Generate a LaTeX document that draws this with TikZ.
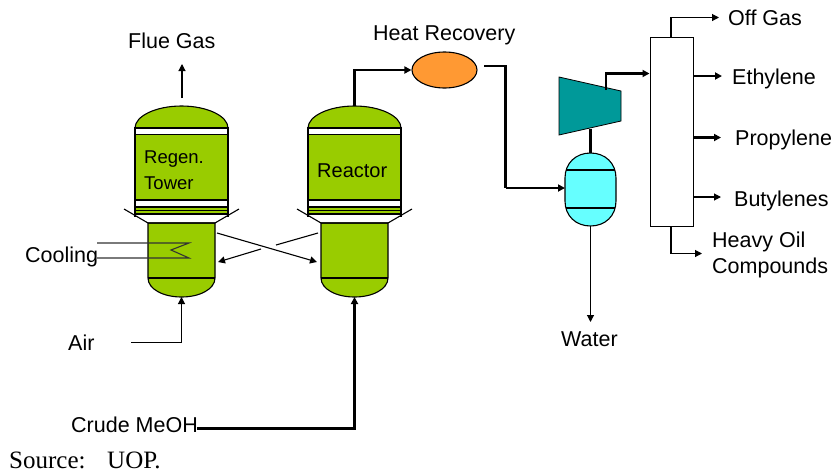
\documentclass[tikz,border=0pt]{standalone}
\usepackage{fontspec}
\setmainfont{Liberation Sans}
\newfontfamily\serifsrc{Liberation Serif}
\usetikzlibrary{arrows.meta,shapes.geometric}
\definecolor{vgreen}{HTML}{99CC00}
\definecolor{teal2}{HTML}{009999}
\definecolor{cyan2}{HTML}{66FFFF}
\definecolor{orange2}{HTML}{FF9933}
\tikzset{
  x=1pt,y=-1pt,
  lbl/.style={anchor=base west,inner sep=0pt,font=\fontsize{21.5}{24}\selectfont},
  inner/.style={anchor=base west,inner sep=0pt,font=\fontsize{18.5}{22}\selectfont},
  vessel/.style={draw=black,line width=1.1pt,fill=vgreen},
  band/.style={draw=black,line width=1.1pt,fill=white},
  feed/.style={draw=black,line width=1.1pt,-{Triangle[length=7pt,width=7pt]}},
  thick feed/.style={draw=black,line width=2.5pt,-{Triangle[length=7pt,width=7pt]}},
  plain/.style={draw=black,line width=1.1pt},
  boldplain/.style={draw=black,line width=2.5pt},
}
\newcommand{\reactorbody}[2]{%
  \begin{scope}[shift={(#1,0)}]
    \draw[vessel] (0,128) .. controls (0,116) and (21,106) .. (46.5,106) .. controls (72,106) and (93,116) .. (93,128) -- cycle;
    \draw[band] (0,128) rectangle (93,134.5);
    \draw[vessel] (0,134.5) rectangle (93,200);
    \draw[band] (0,200) rectangle (93,207);
    \draw[vessel] (0,207) rectangle (93,210.5);
    \draw[vessel] (0,210.5) rectangle (93,214);
    \draw[vessel] (13,223) -- (13,278) .. controls (13,289) and (28,297) .. (46.5,297) .. controls (65,297) and (80,289) .. (80,278) -- (80,223) -- cycle;
    \draw[plain] (13,278) -- (80,278);
    \draw[plain] (-11,209) -- (13,223) -- (80,223) -- (104,209);
    \draw[plain] (0,214) -- (0,217) (93,214) -- (93,217);
    \coordinate (#2top) at (46.5,106);
    \coordinate (#2bottom) at (46.5,297);
  \end{scope}}
\begin{document}
\begin{tikzpicture}
\useasboundingbox (0,0) rectangle (831,472);
\reactorbody{135}{reg}
\reactorbody{308}{rea}
\node[inner] (regen) at (144,163) {Regen.};
\node[inner] (tower) at (144,189) {Tower};
\node[inner,font=\fontsize{20}{23}\selectfont] (reactor) at (317,177) {Reactor};
\node[draw=black,line width=1.1pt,fill=orange2,ellipse,minimum width=65pt,minimum height=36pt,inner sep=0pt] (hr) at (444.5,70) {};
\draw[draw=black,line width=.8pt,fill=teal2] (559,77) -- (621,91) -- (621,121) -- (559,135) -- cycle;
\coordinate (compOut) at (606,90);
\coordinate (compIn) at (590.5,128.5);
\draw[draw=black,line width=1.1pt,fill=cyan2] (565,178) .. controls (565,163) and (576,153) .. (590.5,153) .. controls (605,153) and (616,163) .. (616,178) -- (616,201) .. controls (616,216) and (605,226) .. (590.5,226) .. controls (576,226) and (565,216) .. (565,201) -- cycle;
\draw[plain] (566,170) -- (615,170) (566,208) -- (615,208);
\coordinate (flashTop) at (590.5,153);
\coordinate (flashBot) at (590.5,226);
\coordinate (flashIn) at (565,188);
\node[draw=black,line width=1pt,fill=white,minimum width=43pt,minimum height=189pt,inner sep=0pt] (col) at (671.5,131.5) {};
\node[lbl] (flue) at (128,48) {Flue Gas};
\node[lbl] (heat) at (373,40) {Heat Recovery};
\node[lbl] (off) at (728,25) {Off Gas};
\node[lbl] (eth) at (732,84) {Ethylene};
\node[lbl] (pro) at (735,145) {Propylene};
\node[lbl] (but) at (734,206) {Butylenes};
\node[lbl] (hvy) at (712,247) {Heavy Oil};
\node[lbl] (cmp) at (712,273) {Compounds};
\node[lbl] (wat) at (561,346) {Water};
\node[lbl] (coo) at (25,262) {Cooling};
\node[lbl] (air) at (68,350) {Air};
\node[lbl] (meoh) at (71,432) {Crude MeOH};
\node[anchor=base west,inner sep=0pt,font=\serifsrc\fontsize{25}{28}\selectfont] (src) at (9,468) {Source:};
\node[anchor=base west,inner sep=0pt,font=\serifsrc\fontsize{25}{28}\selectfont] (uop) at (107,468) {UOP.};
\coordinate (flueS) at (182,98);
\coordinate (flueE) at (182,64);
\coordinate (airS) at (131,342.5);
\coordinate (airE) at (181.5,342.5);
\coordinate (meohS) at (197,428.5);
\coordinate (watE) at (590.5,322);
\coordinate (hrOut) at (484,66);
\coordinate (cmpIn) at (649.5,73.5);
\draw[feed] (flueS) -- (flueE);
\draw[feed] (airS) -- (airE) -- (regbottom);
\draw[thick feed] (meohS) -| (reabottom);
\draw[thick feed] (reatop) |- (hr.west);
\draw[boldplain,line join=miter] (hrOut) -- (505.5,66) -- (505.5,188);
\draw[thick feed] (505.5,188) -- (flashIn);
\draw[boldplain] (compIn) -- (flashTop);
\draw[thick feed] (compOut) |- (cmpIn);
\draw[feed] (flashBot) -- (watE);
\draw[feed] (671,37) -- (671,17.5) -- (719,17.5);
\draw[thick feed] (693,76) -- (722,76);
\draw[thick feed] (693,137.5) -- (721,137.5);
\draw[feed] (693,197) -- (721,197);
\draw[feed] (671,226) -- (671,253.5) -- (702,253.5);
\draw[feed] (217,233) -- (317,262);
\draw[plain] (318,233) -- (276,245);
\draw[feed] (261,249) -- (218,262);
\draw[plain,draw=black!80] (97,243) -- (189,243) -- (171,250) -- (189,258) -- (97,258);
\end{tikzpicture}
\end{document}
